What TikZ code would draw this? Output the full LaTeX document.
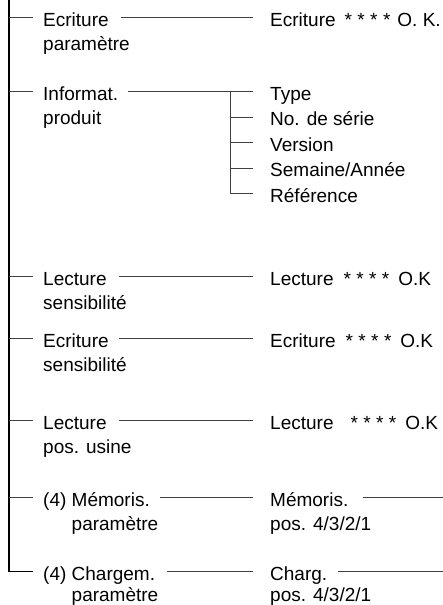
\documentclass[tikz,border=0pt]{standalone}
\usepackage{fontspec}
\setmainfont{Liberation Sans}
\newcommand{\stars}{*\hspace{5.4pt}*\hspace{5.4pt}*\hspace{5.4pt}*}
\begin{document}
\begin{tikzpicture}[x=1pt,y=-1pt,
  lbl/.style={anchor=base west, inner sep=0pt, font=\fontsize{19}{24.5}\selectfont, text height=17pt, text depth=0pt},
  trunk/.style={line width=1.2pt, black},
  br/.style={line width=0.9pt, black!75}]
\useasboundingbox (0,0) rectangle (443,605);
\coordinate (top) at (9,0);
\coordinate (rim) at (443,0);
\coordinate (sb) at (230,0);
% left column
\node[lbl] (l1) at (43,26) {Ecriture};
\node[lbl] (l1b) at (43,50) {paramètre};
\node[lbl] (l2) at (43,100) {Informat.};
\node[lbl] (l2b) at (43,124) {produit};
\node[lbl] (l3) at (43,285) {Lecture};
\node[lbl] (l3b) at (43,309) {sensibilité};
\node[lbl] (l4) at (43,347) {Ecriture};
\node[lbl] (l4b) at (43,371) {sensibilité};
\node[lbl] (l5) at (43,429) {Lecture};
\node[lbl] (l5b) at (43,453) {pos. usine};
\node[lbl] (l6) at (43,506) {(4) Mémoris.};
\node[lbl] (l6b) at (43,530) {\hphantom{(4) }paramètre};
\node[lbl] (l7) at (43,580) {(4) Chargem.};
\node[lbl] (l7b) at (43,601) {\hphantom{(4) }paramètre};
% right column
\node[lbl] (r1) at (270,26) {Ecriture\hspace{9pt}\stars\hspace{7pt}O. K.};
\node[lbl] (s1) at (270,100) {Type};
\node[lbl] (s2) at (270,125.5) {No. de série};
\node[lbl] (s3) at (270,151) {Version};
\node[lbl] (s4) at (270,176.5) {Semaine/Année};
\node[lbl] (s5) at (270,202) {Référence};
\node[lbl] (r3) at (270,285) {Lecture\hspace{10pt}\stars\hspace{9pt}O.K};
\node[lbl] (r4) at (270,347) {Ecriture\hspace{10pt}\stars\hspace{9pt}O.K};
\node[lbl] (r5) at (270,429) {Lecture\hspace{17pt}\stars\hspace{9pt}O.K};
\node[lbl] (r6) at (270,506) {Mémoris.};
\node[lbl] (r6b) at (270,530) {pos. 4/3/2/1};
\node[lbl] (r7) at (270,580) {Charg.};
\node[lbl] (r7b) at (270,601) {pos. 4/3/2/1};
% trunk and branches
\draw[trunk] (top) |- ([xshift=-10pt]l7.west);
\foreach \n in {l1,l2,l3,l4,l5,l6}
  \draw[br] (top |- \n.west) -- ([xshift=-10pt]\n.west);
% left to right
\foreach \a/\b/\g in {l1/r1/12,l2/s1/10,l3/r3/12,l4/r4/10,l5/r5/12,l6/r6/10,l7/r7/12}
  \draw[br] ([xshift=\g pt]\a.east) -- ([xshift=-17pt]\b.west);
% subtree
\draw[br] (sb |- s1.west) |- ([xshift=-17pt]s5.west);
\foreach \n in {s2,s3,s4}
  \draw[br] (sb |- \n.west) -- ([xshift=-17pt]\n.west);
% right ends
\draw[br] ([xshift=14pt]r6.east) -- (r6.east -| rim);
\draw[br] ([xshift=11pt]r7.east) -- (r7.east -| rim);
\end{tikzpicture}
\end{document}
